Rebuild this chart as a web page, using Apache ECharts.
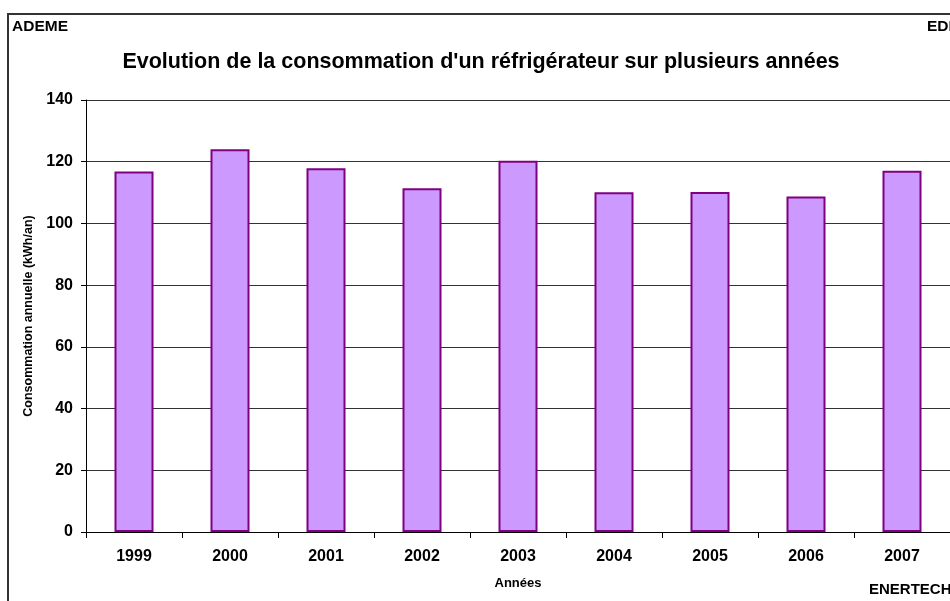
<!DOCTYPE html>
<html>
<head>
<meta charset="utf-8">
<script src="https://cdn.jsdelivr.net/npm/echarts@6/dist/echarts.min.js"></script>
<style>
  html, body { margin: 0; padding: 0; background: #fff; }
  #main { width: 950px; height: 601px; }
</style>
</head>
<body>
<div id="main"></div>
<script>
// données
let annees = ['1999', '2000', '2001', '2002', '2003', '2004', '2005', '2006', '2007'];
let consommation = [116.8, 124.0, 117.9, 111.4, 120.3, 110.1, 110.2, 108.7, 117.1];
let yTicks = [0, 20, 40, 60, 80, 100, 120, 140];

let dom = document.getElementById('main');
let chart = echarts.init(dom);
window.addEventListener('resize', function () {
    chart.resize();
});

let font = 'Liberation Sans, Arial, sans-serif';

let option = {
    animation: false,
    backgroundColor: '#fff',
    title: {
        text: "Evolution de la consommation d'un réfrigérateur sur plusieurs années",
        left: 476,
        top: 46,
        textAlign: 'center',
        textStyle: { fontFamily: font, fontSize: 21.5, fontWeight: 'bold', color: '#000' }
    },
    grid: { left: 86, right: 0, top: 100, bottom: 69 },
    xAxis: {
        type: 'category',
        data: annees,
        name: 'Années',
        nameLocation: 'middle',
        nameGap: 45,
        nameTextStyle: { fontFamily: font, fontSize: 13, fontWeight: 'bold', color: '#000' },
        axisLine: { lineStyle: { color: '#000', width: 1 } },
        axisTick: { show: true, length: 6, lineStyle: { color: '#000' } },
        axisLabel: { fontFamily: font, fontSize: 16, fontWeight: 'bold', color: '#000', margin: 17 }
    },
    yAxis: {
        type: 'value',
        min: yTicks[0],
        max: yTicks[yTicks.length - 1],
        interval: 20,
        name: 'Consommation annuelle (kWh/an)',
        nameLocation: 'middle',
        nameGap: 47,
        nameTextStyle: { fontFamily: font, fontSize: 12.5, fontWeight: 'bold', color: '#000' },
        axisLine: { show: true, lineStyle: { color: '#000', width: 1 } },
        axisTick: { show: true, length: 5, lineStyle: { color: '#000' } },
        axisLabel: { fontFamily: font, fontSize: 16, fontWeight: 'bold', color: '#000', margin: 13 },
        splitLine: { lineStyle: { color: '#333', width: 1 } }
    },
    series: [
        {
            name: 'Consommation',
            type: 'bar',
            data: consommation,
            barWidth: 39,
            itemStyle: {
                color: '#CC99FF',
                borderColor: '#800080',
                borderWidth: 2
            }
        }
    ],
    graphic: [
        {
            type: 'rect',
            shape: { x: 8, y: 14, width: 1000, height: 700 },
            style: { fill: 'none', stroke: '#333', lineWidth: 2 },
            silent: true
        },
        {
            type: 'text', left: 12, top: 19,
            style: { text: 'ADEME', font: 'bold 15.5px ' + font, fill: '#000' }
        },
        {
            type: 'text', left: 927, top: 19,
            style: { text: 'EDF', font: 'bold 15.5px ' + font, fill: '#000' }
        },
        {
            type: 'text', left: 869, top: 582,
            style: { text: 'ENERTECH', font: 'bold 15px ' + font, fill: '#000' }
        }
    ]
};

option && chart.setOption(option);
</script>
</body>
</html>
